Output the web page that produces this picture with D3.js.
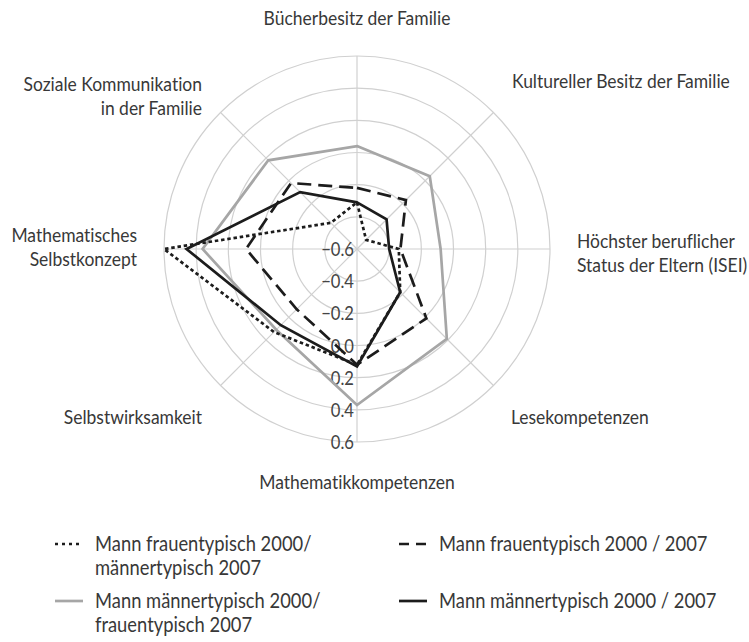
<!DOCTYPE html>
<html>
<head>
<meta charset="utf-8">
<script src="https://cdn.jsdelivr.net/npm/d3@7"></script>
<style>
  html, body { margin: 0; padding: 0; background: #fff; }
  svg { display: block; }
  text { font-family: "Lato", "Open Sans", "DejaVu Sans", sans-serif; font-weight: 400; fill: #383838; font-variant-ligatures: none; }
</style>
</head>
<body>
<svg id="chart" width="749" height="642"></svg>
<script>
// ---- data ----
const categories = [
  ["Bücherbesitz der Familie"],
  ["Kultureller Besitz der Familie"],
  ["Höchster beruflicher", "Status der Eltern (ISEI)"],
  ["Lesekompetenzen"],
  ["Mathematikkompetenzen"],
  ["Selbstwirksamkeit"],
  ["Mathematisches", "Selbstkonzept"],
  ["Soziale Kommunikation", "in der Familie"]
];
const seriesNames = [
  ["Mann frauentypisch 2000/", "männertypisch 2007"],
  ["Mann frauentypisch 2000 / 2007"],
  ["Mann männertypisch 2000/", "frauentypisch 2007"],
  ["Mann männertypisch 2000 / 2007"]
];
const dottedValues = [-0.31, -0.52, -0.34, -0.22, 0.12, 0.13, 0.60, -0.37];
const dashedValues = [-0.22, -0.17, -0.33, 0.01, 0.12, -0.07, 0.09, -0.02];
const grayValues   = [0.04, 0.04, -0.08, 0.19, 0.37, 0.11, 0.36, 0.18];
const solidValues  = [-0.31, -0.34, -0.40, -0.22, 0.13, 0.07, 0.46, -0.10];
const tickValues = [-0.6, -0.4, -0.2, 0.0, 0.2, 0.4, 0.6];

// ---- layout ----
const svg = d3.select("#chart");
const cx = 357, cy = 249, R = 193;
const r = d3.scaleLinear().domain([-0.6, 0.6]).range([0, R]);
const angle = d3.scaleLinear().domain([0, categories.length]).range([0, 2 * Math.PI]);

// horizontal condensing factor so that the font matches the condensed original
const probe = svg.append("text").style("font-size", "20px").text(categories[0][0]);
const probeW = probe.node().getComputedTextLength() || 187;
probe.remove();
const k = Math.min(1, 187 / probeW);

function addText(parent, x, y, lines, size, anchor, lh, fill) {
  const t = parent.append("text")
    .attr("transform", `translate(${x},${y}) scale(${k},1)`)
    .attr("text-anchor", anchor)
    .style("font-size", size + "px");
  if (fill) t.style("fill", fill);
  lines.forEach((ln, j) => {
    t.append("tspan").attr("x", 0).attr("dy", j === 0 ? 0 : lh).text(ln);
  });
  return t;
}

const g = svg.append("g").attr("transform", `translate(${cx},${cy})`);

// grid circles
g.selectAll("circle.grid").data(tickValues.slice(1)).join("circle")
  .attr("class", "grid")
  .attr("r", d => r(d)).attr("fill", "none")
  .attr("stroke", "#d0d0d0").attr("stroke-width", 1.2);
// spokes
g.selectAll("line.spoke").data(categories).join("line")
  .attr("class", "spoke")
  .attr("x1", 0).attr("y1", 0)
  .attr("x2", (d, i) => R * Math.sin(angle(i)))
  .attr("y2", (d, i) => -R * Math.cos(angle(i)))
  .attr("stroke", "#d0d0d0").attr("stroke-width", 1.2);

// tick labels along the lower spoke
tickValues.forEach(v => {
  addText(g, -3, r(v) + 7, [d3.format(".1f")(v).replace("-", "\u2212")], 19, "end", 0, "#444");
});

// series
const series = [
  { values: grayValues,   color: "#a6a6a6", dash: null,    legendDash: null },
  { values: dashedValues, color: "#1c1c1c", dash: "14,7",  legendDash: "10,7" },
  { values: solidValues,  color: "#1c1c1c", dash: null,    legendDash: null },
  { values: dottedValues, color: "#1c1c1c", dash: "3.5,2.8", legendDash: "3,4" }
];
const radial = d3.lineRadial()
  .angle((d, i) => angle(i))
  .radius(d => r(d))
  .curve(d3.curveLinearClosed);
g.selectAll("path.series").data(series).join("path")
  .attr("class", "series")
  .attr("d", d => radial(d.values))
  .attr("fill", "none")
  .attr("stroke", d => d.color)
  .attr("stroke-width", 2.7)
  .attr("stroke-linejoin", "miter")
  .attr("stroke-dasharray", d => d.dash);

// category labels (placed relative to chart centre)
const labelPos = [
  { x: 0,    y: -224, anchor: "middle" },
  { x: 155,  y: -161, anchor: "start" },
  { x: 220,  y: -1,   anchor: "start" },
  { x: 154,  y: 175,  anchor: "start" },
  { x: 0,    y: 240,  anchor: "middle" },
  { x: -155, y: 175,  anchor: "end" },
  { x: -220, y: -7,   anchor: "end" },
  { x: -155, y: -158, anchor: "end" }
];
categories.forEach((lines, i) => {
  addText(g, labelPos[i].x, labelPos[i].y, lines, 20, labelPos[i].anchor, 24);
});

// legend
const legendItems = [
  { name: seriesNames[0], s: series[3], x: 55, y: 551 },
  { name: seriesNames[1], s: series[1], x: 399, y: 551 },
  { name: seriesNames[2], s: series[0], x: 55, y: 608 },
  { name: seriesNames[3], s: series[2], x: 399, y: 608 }
];
const lg = svg.append("g");
legendItems.forEach(it => {
  lg.append("line")
    .attr("x1", it.x).attr("x2", it.x + 28)
    .attr("y1", it.y - 7).attr("y2", it.y - 7)
    .attr("stroke", it.s.color).attr("stroke-width", 2.7)
    .attr("stroke-dasharray", it.s.legendDash);
  addText(lg, it.x + 40, it.y, it.name, 21, "start", 24);
});
</script>
</body>
</html>
